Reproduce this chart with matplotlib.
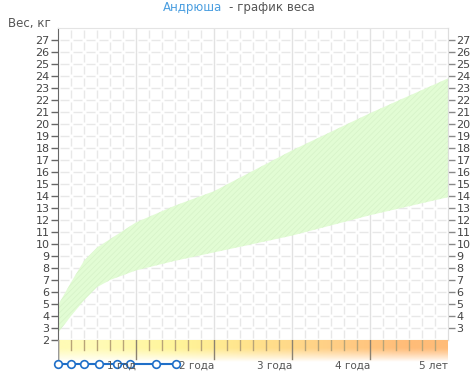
import numpy as np
import matplotlib
matplotlib.use("Agg")
import matplotlib.pyplot as plt
from matplotlib.colors import to_rgb

# weight norm band (months -> kg)
band_months = [0, 2, 4, 6, 8, 12, 18, 24, 36, 48, 60]
band_low = [2.6, 4.0, 5.3, 6.4, 7.0, 7.8, 8.6, 9.3, 10.7, 12.4, 13.9]
band_high = [4.9, 6.8, 8.6, 9.7, 10.4, 11.8, 13.2, 14.4, 17.8, 20.9, 23.8]

# measurement dates on the timeline (months)
point_months = [0, 2, 4, 6.3, 9.1, 11.1, 15.1, 18.1]

year_labels = ["1 год", "2 года", "3 года", "4 года", "5 лет"]
strip_colors = ["#fffbb6", "#fff59a", "#ffe28c", "#ffcf86", "#ffbc78"]

plt.rcParams['font.family'] = ['DejaVu Sans']
plt.rcParams['hatch.linewidth'] = 0.5

fig = plt.figure(figsize=(4.76, 3.82), dpi=100)
W, H = 476, 382
x0, x1, ytop, ybot = 58, 448, 28, 340
pt = 72 / 100  # points per pixel

ax = fig.add_axes([x0 / W, (H - ybot) / H, (x1 - x0) / W, (ybot - ytop) / H])
ax.set_xlim(0, 60)
ax.set_ylim(2, 28)

# dashed grid with gaps at the crossings
hd, hg = 9 * pt, 4 * pt
for k in range(3, 28):
    ax.axhline(k, color="#e8e8e8", lw=1, ls=(hd + hg / 2, (hd, hg)), zorder=0)
vd, vg = 8 * pt, 4 * pt
for m in range(2, 60, 2):
    if m % 12 == 0:
        ax.axvline(m, color="#e2e2e2", lw=1, zorder=0)
    else:
        ax.axvline(m, color="#e8e8e8", lw=1, ls=(vd + vg / 2, (vd, vg)), zorder=0)

ax.fill_between(band_months, band_low, band_high, facecolor="#e2fcd4",
                edgecolor="#d6f2c8", hatch="//////", lw=0, zorder=1)

ax.set_xticks([])
ax.set_yticks(range(2, 28))
ax.tick_params(axis="y", direction="out", length=5, width=1, color="#666666",
               labelsize=8, labelcolor="#444444", pad=1)
ax.spines["left"].set_color("#666666")
ax.spines["top"].set_color("#e4e4e4")
ax.spines["right"].set_color("#dddddd")
ax.spines["bottom"].set_color("#d8cc98")

ax2 = ax.twinx()
ax2.set_ylim(2, 28)
ax2.set_yticks(range(3, 28))
ax2.tick_params(axis="y", direction="out", length=5, width=1, color="#888888",
                labelsize=8, labelcolor="#444444", pad=1)
for s in ["left", "top", "bottom"]:
    ax2.spines[s].set_visible(False)
ax2.spines["right"].set_color("#dddddd")

# age strip below the plot
sa = fig.add_axes([x0 / W, 0, (x1 - x0) / W, (H - ybot) / H])
sa.set_xlim(0, 5)
sa.set_ylim(42, 0)
sa.axis("off")

nx, ny = 400, 60
xs = np.linspace(0, 5, nx)
cols = np.array([to_rgb(c) for c in strip_colors])
centers = np.arange(5) + 0.5
rgb = np.stack([np.interp(xs, centers, cols[:, i]) for i in range(3)], axis=-1)
img = np.ones((ny, nx, 4))
img[:, :, :3] = rgb[None, :, :]
t = np.linspace(0, 1, ny)
img[:, :, 3] = np.clip(1 - np.clip((t - 0.35) / 0.65, 0, 1) ** 1.2, 0, 1)[:, None]
sa.imshow(img, extent=[0, 5, 22, 0], aspect="auto", interpolation="bilinear", zorder=0)

for m in range(0, 60, 2):
    if m % 12 == 0:
        sa.plot([m / 12, m / 12], [0, 19], color="#8c8270", lw=1, zorder=2)
    else:
        sa.plot([m / 12, m / 12], [0, 10], color="#b8a478", lw=1, zorder=2)
sa.plot([0, 0], [0, 19], color="#999999", lw=1, zorder=2)

pm = np.array(point_months) / 12
sa.plot(pm, [24] * len(pm), color="#1f6fc8", lw=1.5, marker="o", ms=5.5,
        mfc="white", mec="#1f6fc8", mew=1.2, clip_on=False, zorder=3)

for i, lab in enumerate(year_labels):
    sa.text(i + 1, 26, lab, ha="right", va="center", fontsize=7.5, color="#555555", zorder=5)

# titles
fig.text(222 / W, 1 - 8 / H, "Андрюша", ha="right", va="center", fontsize=8.5, color="#4a9ee0")
fig.text(229 / W, 1 - 8 / H, "- график веса", ha="left", va="center", fontsize=8.5, color="#555555")
fig.text(8 / W, 1 - 24 / H, "Вес, кг", ha="left", va="center", fontsize=8.5, color="#555555")

fig.savefig("out.png", dpi=100)
